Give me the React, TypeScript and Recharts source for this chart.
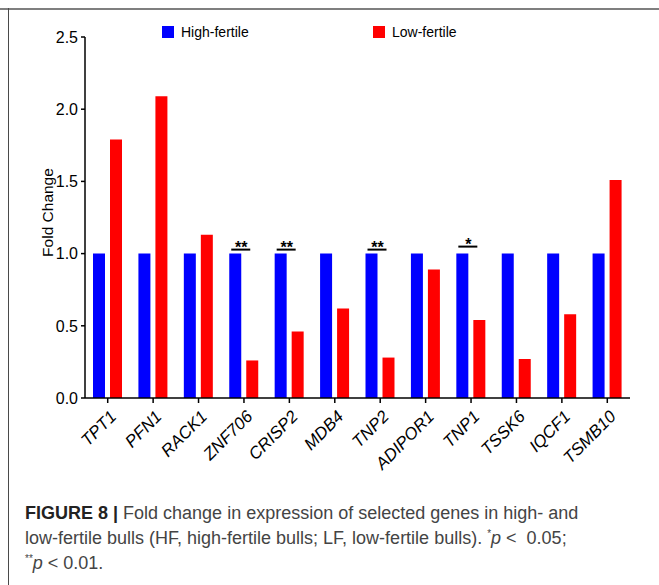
import { Bar, BarChart, LabelList, Legend, XAxis, YAxis } from "recharts";

const genes = ["TPT1", "PFN1", "RACK1", "ZNF706", "CRISP2", "MDB4", "TNP2", "ADIPOR1", "TNP1", "TSSK6", "IQCF1", "TSMB10"];
const highFertile = [1, 1, 1, 1, 1, 1, 1, 1, 1, 1, 1, 1];
const lowFertile = [1.79, 2.09, 1.13, 0.26, 0.46, 0.62, 0.28, 0.89, 0.54, 0.27, 0.58, 1.51];
const significance = ["", "", "", "**", "**", "", "**", "", "*", "", "", ""];
const yTicks = [0, 0.5, 1, 1.5, 2, 2.5];

const data = genes.map((gene, i) => ({
  gene,
  high: highFertile[i],
  low: lowFertile[i],
  sig: significance[i],
}));

const FONT = "'Liberation Sans', Arial, Helvetica, sans-serif";

const GeneTick = (props: any) => {
  const { x, y, payload } = props;
  const ax = x + 1;
  const ay = y + 4;
  return (
    <text
      x={ax}
      y={ay}
      transform={`rotate(-45, ${ax}, ${ay})`}
      textAnchor="end"
      dy="0.72em"
      style={{ fontSize: 17, fontStyle: "italic", fontFamily: FONT }}
      fill="#000"
    >
      {payload.value}
    </text>
  );
};

const ValueTick = (props: any) => {
  const { x, y, payload } = props;
  return (
    <text x={x - 1} y={y} dy="0.36em" textAnchor="end" style={{ fontSize: 16, fontFamily: FONT }} fill="#000">
      {Number(payload.value).toFixed(1)}
    </text>
  );
};

const AxisTitle = (props: any) => {
  const { viewBox } = props;
  const cx = 47;
  const cy = viewBox.y + viewBox.height / 2 - 5;
  return (
    <text
      x={cx}
      y={cy}
      transform={`rotate(-90, ${cx}, ${cy})`}
      textAnchor="middle"
      dy="0.36em"
      style={{ fontSize: 15.5, fontFamily: FONT }}
      fill="#000"
    >
      Fold Change
    </text>
  );
};

const SigMark = (props: any) => {
  const { x, y, value } = props;
  if (!value) return null;
  const lineY = value === "*" ? y - 7 : y - 4;
  return (
    <g>
      <line x1={x + 2} x2={x + 21} y1={lineY} y2={lineY} stroke="#000" strokeWidth={2} />
      <text x={x + 12} y={lineY + 3} textAnchor="middle" style={{ fontSize: 16, fontWeight: "bold", fontFamily: FONT }} fill="#000">
        {value}
      </text>
    </g>
  );
};

const LegendContent = (props: any) => {
  const { payload } = props;
  return (
    <div style={{ display: "flex", paddingLeft: 162, fontFamily: FONT, fontSize: 14 }}>
      {(payload || []).map((entry: any) => (
        <div key={entry.value} style={{ display: "flex", alignItems: "center", width: 211 }}>
          <span style={{ display: "inline-block", width: 12, height: 12, background: entry.color, marginRight: 7 }} />
          <span style={{ color: "#000" }}>{entry.value}</span>
        </div>
      ))}
    </div>
  );
};

export default function App() {
  return (
    <div style={{ position: "absolute", left: 0, top: 0, width: 659, height: 585, background: "#fff", overflow: "hidden" }}>
      <div style={{ position: "absolute", left: 0, top: 8, width: 659, height: 2, background: "#7f7f7f" }} />
      <div style={{ position: "absolute", left: 8, top: 8, width: 1, height: 577, background: "#4a4a4a" }} />
      <div style={{ position: "absolute", left: 0, top: 0 }}>
        <BarChart
          width={659}
          height={480}
          data={data}
          margin={{ top: 37, right: 29, left: 0, bottom: 22 }}
          barGap={5}
          barCategoryGap={8}
        >
          <YAxis
            width={85}
            domain={[0, 2.5]}
            ticks={yTicks}
            axisLine={{ stroke: "#000", strokeWidth: 1.5 }}
            tickLine={{ stroke: "#000", strokeWidth: 1.5 }}
            tickSize={4}
            tick={<ValueTick />}
            label={<AxisTitle />}
          />
          <XAxis
            dataKey="gene"
            height={60}
            interval={0}
            axisLine={{ stroke: "#000", strokeWidth: 1.5 }}
            tickLine={{ stroke: "#000", strokeWidth: 1.5 }}
            tickSize={5}
            tick={<GeneTick />}
          />
          <Legend
            layout="horizontal"
            verticalAlign="middle"
            align="center"
            wrapperStyle={{ top: 24, left: 0, width: 659 }}
            content={<LegendContent />}
          />
          <Bar dataKey="high" name="High-fertile" fill="#0000ff" barSize={12} isAnimationActive={false}>
            <LabelList dataKey="sig" content={<SigMark />} />
          </Bar>
          <Bar dataKey="low" name="Low-fertile" fill="#ff0000" barSize={12} isAnimationActive={false} />
        </BarChart>
      </div>
      <div
        style={{
          position: "absolute",
          left: 25,
          top: 501,
          width: 640,
          fontFamily: FONT,
          fontSize: 18,
          lineHeight: "25px",
          color: "#444",
          whiteSpace: "nowrap",
        }}
      >
        <div>
          <b style={{ color: "#222" }}>FIGURE 8 |</b> Fold change in expression of selected genes in high- and
        </div>
        <div>
          low-fertile bulls (HF, high-fertile bulls; LF, low-fertile bulls). <sup style={{ fontSize: 10, lineHeight: 0 }}>*</sup>
          <i>p</i> &lt;&nbsp; 0.05;
        </div>
        <div>
          <sup style={{ fontSize: 10, lineHeight: 0 }}>**</sup>
          <i>p</i> &lt; 0.01.
        </div>
      </div>
    </div>
  );
}
